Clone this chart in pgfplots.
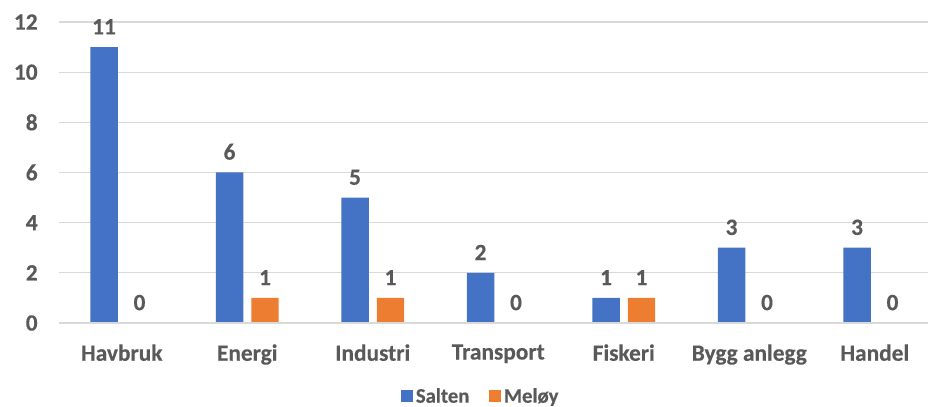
\documentclass[border=0pt]{standalone}
\usepackage{pgfplots}
\pgfplotsset{compat=1.18}
\usepackage{fontspec}
\setmainfont{Carlito}[BoldFeatures={FakeBold=0.35}]
\usetikzlibrary{calc}
\definecolor{salten}{HTML}{4472C4}
\definecolor{meloy}{HTML}{ED7D31}
\definecolor{txtgray}{HTML}{595959}
\definecolor{gridgray}{HTML}{D9D9D9}
\begin{document}
\begin{tikzpicture}
\begin{axis}[name=ax,scale only axis,width=651.75pt,height=225.75pt,
  ybar=6pt,bar width=20.6pt,
  xmin=-0.5,xmax=6.424,ymin=0,ymax=12,enlargelimits=false,clip=false,
  axis x line*=bottom,axis y line*=left,
  x axis line style={-,draw=gridgray,line width=1.3pt},
  y axis line style={draw=none},
  ymajorgrids,grid style={gridgray,line width=0.8pt},
  major tick length=0pt,
  ytick={0,2,...,12},
  xtick=data,
  xticklabels={Havbruk,Energi,Industri,Transport,Fiskeri,Bygg anlegg,Handel},
  /pgf/number format/assume math mode=true,
  tick label style={font=\fontsize{17.5}{20}\selectfont\bfseries,text=txtgray},
  yticklabel style={xshift=-12.5pt},
  xticklabel style={yshift=-12.5pt},
  nodes near coords,
  every node near coord/.append style={font=\fontsize{17.5}{20}\selectfont\bfseries,text=txtgray,yshift=6pt},
  legend columns=2,
  legend style={draw=none,fill=none,at={(rel axis cs:0.4858,-0.244)},anchor=center,
    font=\fontsize{15.5}{18}\selectfont\bfseries,text=txtgray,
    /tikz/every even column/.append style={column sep=13pt},
    cells={inner xsep=2pt}},
  legend image code/.code={\fill[#1] (0pt,-4.5pt) rectangle (9pt,4.5pt);},
]
\addplot[fill=salten,draw=none] coordinates {(0,11) (1,6) (2,5) (3,2) (4,1) (5,3) (6,3)};
\addlegendentry{Salten}
\addplot[fill=meloy,draw=none] coordinates {(0,0) (1,1) (2,1) (3,0) (4,1) (5,0) (6,0)};
\addlegendentry{Meløy}
% baseline redrawn over the zero-height bars
\draw[gridgray,line width=1.3pt] (axis cs:-0.5,0) -- (axis cs:6.424,0);
\end{axis}
\pgfresetboundingbox
\useasboundingbox ($(ax.south west)+(-44.25pt,-63pt)$) rectangle ($(ax.north east)+(0pt,16.5pt)$);
\end{tikzpicture}
\end{document}
